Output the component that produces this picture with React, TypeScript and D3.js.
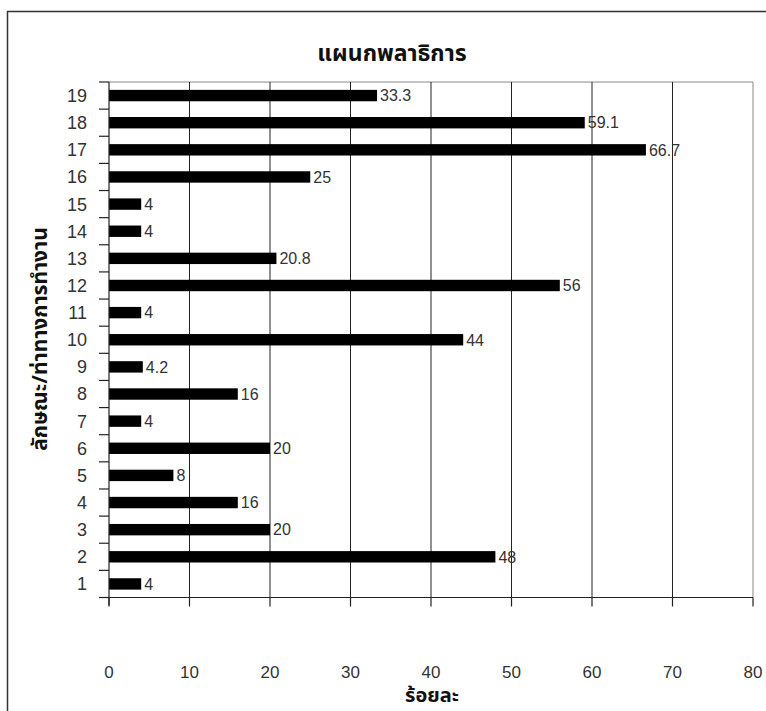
import React from "react";
import * as d3 from "d3";

// Work characteristic / posture categories (1–19) and their percentages
const categories: string[] = [
  "1", "2", "3", "4", "5", "6", "7", "8", "9", "10",
  "11", "12", "13", "14", "15", "16", "17", "18", "19",
];
const values: number[] = [
  4, 48, 20, 16, 8, 20, 4, 16, 4.2, 44,
  4, 56, 20.8, 4, 4, 25, 66.7, 59.1, 33.3,
];
const valueLabels: string[] = [
  "4", "48", "20", "16", "8", "20", "4", "16", "4.2", "44",
  "4", "56", "20.8", "4", "4", "25", "66.7", "59.1", "33.3",
];
const xTicks: number[] = [0, 10, 20, 30, 40, 50, 60, 70, 80];

const chartTitle = "แผนกพลาธิการ";
const xTitle = "ร้อยละ";
const yTitle = "ลักษณะ/ท่าทางการทำงาน";

const W = 766;
const H = 711;
const plot = { left: 109, right: 753, top: 82, bottom: 597.5 };

const numFont = "'Liberation Sans', Arial, sans-serif";
const thaiFont = "'Noto Sans Thai', 'Noto Sans', 'DejaVu Sans', sans-serif";

export default function App() {
  const x = d3.scaleLinear().domain([0, 80]).range([plot.left, plot.right]);
  // category 1 at the bottom, 19 at the top
  const y = d3
    .scaleBand<string>()
    .domain([...categories].reverse())
    .range([plot.top, plot.bottom])
    .paddingInner(0.58)
    .paddingOuter(0.29);
  const step = y.step();
  const boundaries = d3.range(categories.length + 1).map((i) => plot.top + i * step);

  return (
    <svg
      width={W}
      height={H}
      style={{ position: "absolute", left: 0, top: 0, background: "#fff" }}
    >
      {/* outer frame */}
      <rect x={7.5} y={11.5} width={W + 10} height={H + 10} fill="none" stroke="#333" strokeWidth={1.5} />

      {/* title */}
      <text
        x={392}
        y={61}
        textAnchor="middle"
        fontFamily={thaiFont}
        fontWeight="bold"
        fontSize={23}
        fill="#111"
      >
        {chartTitle}
      </text>

      {/* plot frame (top and right) */}
      <line x1={plot.left} x2={plot.right} y1={plot.top} y2={plot.top} stroke="#888" strokeWidth={1} />
      <line x1={plot.right} x2={plot.right} y1={plot.top} y2={plot.bottom} stroke="#888" strokeWidth={1} />

      {/* vertical gridlines */}
      {xTicks.slice(1, -1).map((t) => (
        <line key={"g" + t} x1={x(t)} x2={x(t)} y1={plot.top} y2={plot.bottom} stroke="#222" strokeWidth={1} />
      ))}

      {/* bars */}
      {categories.map((c, i) => (
        <rect
          key={"b" + c}
          x={x(0)}
          y={y(c)!}
          width={x(values[i]) - x(0)}
          height={y.bandwidth()}
          fill="#000"
        />
      ))}

      {/* value labels */}
      {categories.map((c, i) => (
        <text
          key={"v" + c}
          x={x(values[i]) + 3}
          y={y(c)! + y.bandwidth() / 2}
          dy="0.36em"
          fontFamily={numFont}
          fontSize={16}
          fill="#333"
        >
          {valueLabels[i]}
        </text>
      ))}

      {/* y axis */}
      <line x1={plot.left} x2={plot.left} y1={plot.top} y2={plot.bottom + 8} stroke="#222" strokeWidth={1.2} />
      {boundaries.map((b, i) => (
        <line key={"yt" + i} x1={plot.left - 10} x2={plot.left} y1={b} y2={b} stroke="#222" strokeWidth={1.2} />
      ))}
      {categories.map((c) => (
        <text
          key={"yl" + c}
          x={87}
          y={y(c)! + y.bandwidth() / 2}
          dy="0.36em"
          textAnchor="end"
          fontFamily={numFont}
          fontSize={18}
          fill="#333"
        >
          {c}
        </text>
      ))}

      {/* x axis */}
      <line x1={plot.left - 10} x2={plot.right} y1={plot.bottom} y2={plot.bottom} stroke="#222" strokeWidth={1.2} />
      {xTicks.map((t) => (
        <line key={"xt" + t} x1={x(t)} x2={x(t)} y1={plot.bottom} y2={plot.bottom + 9} stroke="#222" strokeWidth={1.2} />
      ))}
      {xTicks.map((t) => (
        <text
          key={"xl" + t}
          x={x(t)}
          y={672}
          dy="0.36em"
          textAnchor="middle"
          fontFamily={numFont}
          fontSize={17}
          fill="#333"
        >
          {t}
        </text>
      ))}

      {/* axis titles */}
      <text
        x={x(40) + 1}
        y={702}
        textAnchor="middle"
        fontFamily={thaiFont}
        fontWeight="bold"
        fontSize={20}
        fill="#111"
      >
        {xTitle}
      </text>
      <text
        transform={`translate(47, 339) rotate(-90)`}
        textAnchor="middle"
        fontFamily={thaiFont}
        fontWeight="bold"
        fontSize={21}
        fill="#111"
      >
        {yTitle}
      </text>
    </svg>
  );
}
